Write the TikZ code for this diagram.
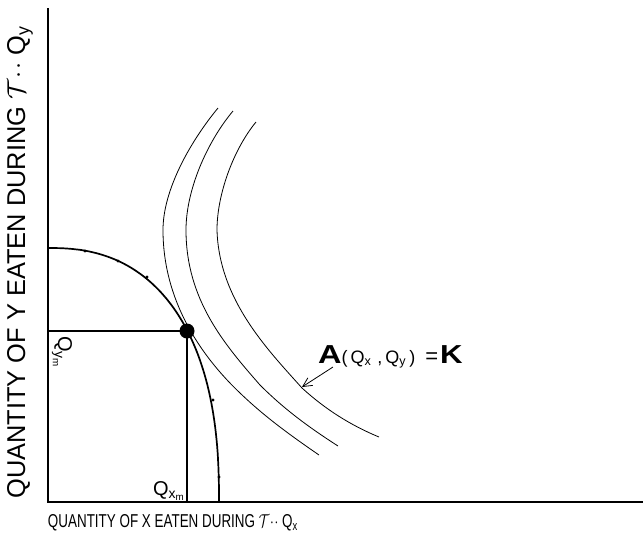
\documentclass[tikz,border=0pt]{standalone}
\usepackage{fontspec}
\setmainfont{Liberation Sans}
\usetikzlibrary{arrows.meta,positioning}

\tikzset{
  axis line/.style={line width=2.2pt},
  budget line/.style={line width=1.7pt},
  guide line/.style={line width=1.2pt},
  indiff curve/.style={line width=0.8pt},
  curve mark/.style={circle, fill, inner sep=0pt, minimum size=3.2pt},
}

\begin{document}
\begin{tikzpicture}[x=1pt, y=-1pt, every node/.style={inner sep=0pt}]
\useasboundingbox (0,0) rectangle (643,544);

% Axes
\coordinate (origin) at (48,502);
\coordinate (ytop) at (48,8);
\coordinate (xend) at (643,502);
\draw[axis line] (ytop) -- (origin) -- (xend);

% Axis titles
\node[rotate=90] (ylabel) at (20,262)
      {\resizebox{473pt}{18pt}{QUANTITY OF Y EATEN DURING $\mathcal{T}\!\cdot\!\cdot$ Q\textsubscript{y}}};
\node (xlabel) at (173,523)
      {\resizebox{250pt}{13pt}{QUANTITY OF X EATEN DURING $\mathcal{T}\!\cdot\!\cdot$ Q\textsubscript{x}}};

% Feasible set boundary
\coordinate (ymax) at (48,248);
\coordinate (xmax) at (219,502);
\draw[budget line] (xmax) -- plot[domain=0.5:89.5, samples=90, variable=\t]
      ({48+171*pow(cos(\t),0.8333)}, {502-254*pow(sin(\t),0.8333)}) -- (ymax);
\foreach \p [count=\i] in {(85,251),(118,261),(147,277),(213,400),(219,477)}
  \node[curve mark] (mark\i) at \p {};

% Indifference curves A(Qx,Qy)=K
\draw[indiff curve] (218,108) .. controls (190,142) and (163,190) .. (163,230)
      .. controls (163,300) and (200,355) .. (240,393)
      .. controls (265,417) and (290,435) .. (319,455);
\draw[indiff curve] (233,111) .. controls (207,142) and (186,190) .. (186,230)
      .. controls (186,300) and (225,345) .. (260,385)
      .. controls (285,410) and (310,428) .. (338,446);
\draw[indiff curve] (256,122) .. controls (233,150) and (217,195) .. (217,230)
      .. controls (219,300) and (268,350) .. (302,388)
      .. controls (325,409) and (350,425) .. (379,437);

% Optimum and its coordinates
\node[circle, fill, minimum size=15pt] (opt) at (187,331) {};
\coordinate (qy) at (48,331);
\coordinate (qx) at (187,502);
\draw[guide line] (qy) -- (opt.center);
\draw[guide line] (opt.center) -- (qx);
\node[rotate=-90] (qymlabel) at (62,352) {\fontsize{20}{20}\selectfont Q\textsubscript{y\textsubscript{m}}};
\node (qxmlabel) at (169,491) {\fontsize{20}{20}\selectfont Q\textsubscript{x\textsubscript{m}}};

% Label of the curves
\node[anchor=base west] (alabel) at (318,363)
      {\scalebox{1.25}[1]{\fontsize{26}{26}\selectfont\bfseries A}{\fontsize{18}{18}\selectfont (\hspace{3pt}Q\textsubscript{x}\hspace{6pt},\hspace{3pt}Q\textsubscript{y}\hspace{3pt})\hspace{10pt}}{\fontsize{22}{22}\selectfont =}\hspace{2pt}\scalebox{1.2}[1]{\fontsize{26}{26}\selectfont\bfseries K}};
\coordinate (atail) at (333,367);
\coordinate (ahead) at (302,387);
\draw[indiff curve, -{Straight Barb[length=9pt, width=9pt]}] (atail) -- (ahead);
\end{tikzpicture}
\end{document}
